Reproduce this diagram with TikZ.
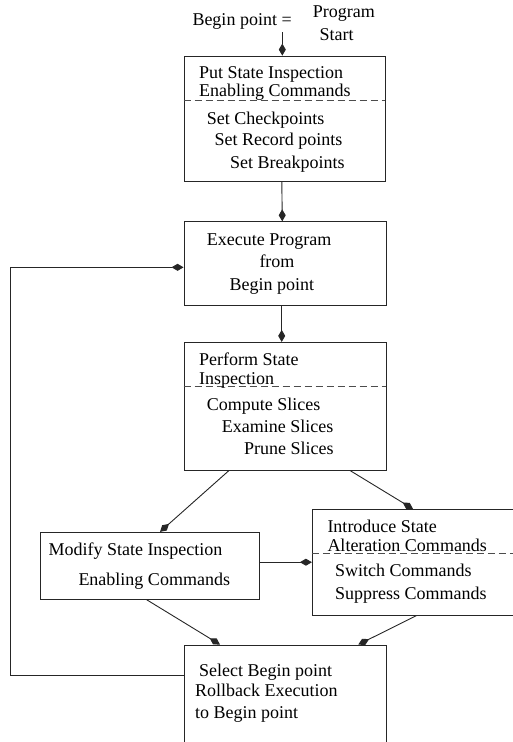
\documentclass[tikz,border=0pt]{standalone}
\usepackage{fontspec}
\setmainfont{Liberation Serif}
\usetikzlibrary{arrows.meta}

\begin{document}
\begin{tikzpicture}[
  x=1pt, y=-1pt,
  font=\fontsize{18}{22}\selectfont,
  box/.style={draw=black!85, line width=0.9pt, inner sep=0pt},
  txt/.style={anchor=base west, inner sep=0pt},
  sep/.style={draw=black!70, line width=0.9pt, dash pattern=on 7pt off 4pt},
  arr/.style={-{Kite[length=12pt, width=7pt, inset=6pt]}, line width=0.9pt, black!85}
]
  \useasboundingbox (0,0) rectangle (512,742);

  % boxes
  \node[box, minimum width=201pt, minimum height=125.7pt] (put) at (284.5,118.9) {};
  \node[box, minimum width=202pt, minimum height=83.3pt] (exec) at (285,263.4) {};
  \node[box, minimum width=202pt, minimum height=127.7pt] (perf) at (285,406.2) {};
  \node[box, minimum width=219.3pt, minimum height=67pt] (mod) at (149.7,565.8) {};
  \node[box, minimum width=212.7pt, minimum height=105.7pt] (intro) at (418.7,562.2) {};
  \node[box, minimum width=202pt, minimum height=125pt] (sel) at (285,707.5) {};

  % dashed separators
  \draw[sep] ([yshift=-45pt]put.north west) -- ([yshift=-45pt]put.north east);
  \draw[sep] ([yshift=-45pt]perf.north west) -- ([yshift=-45pt]perf.north east);
  \draw[sep] ([yshift=-45pt]intro.north west) -- ([yshift=-45pt]intro.north east);

  % texts
  \node[txt] (bpl) at (192.3,25) {Begin point =};
  \node[txt] (prg) at (312.7,17) {Program};
  \node[txt] (sta) at (319.3,40.5) {Start};

  \node[txt] at (199,78.3) {Put State Inspection};
  \node[txt] at (199,96.7) {Enabling Commands};
  \node[txt] at (206.7,124) {Set Checkpoints};
  \node[txt] at (214.3,145) {Set Record points};
  \node[txt] at (230,168.3) {Set Breakpoints};

  \node[txt] at (206.7,245) {Execute Program};
  \node[txt] at (259.3,267.3) {from};
  \node[txt] at (229.3,290) {Begin point};

  \node[txt] at (199,365.7) {Perform State};
  \node[txt] at (199,384) {Inspection};
  \node[txt] at (206.7,410) {Compute Slices};
  \node[txt] at (221.7,432.3) {Examine Slices};
  \node[txt] at (244,454.3) {Prune Slices};

  \node[txt] at (48.3,555) {Modify State Inspection};
  \node[txt] at (78.3,585) {Enabling Commands};

  \node[txt] at (327.3,532.3) {Introduce State};
  \node[txt] at (327.3,551) {Alteration Commands};
  \node[txt] at (335,576) {Switch Commands};
  \node[txt] at (335,599.3) {Suppress Commands};

  \node[txt] at (199,676) {Select Begin point};
  \node[txt] at (195,696.7) {Rollback Execution};
  \node[txt] at (195,718.3) {to Begin point};

  % connectors
  \coordinate (bp) at (282.3,32.3);
  \draw[arr] (bp) -- (bp |- put.north);
  \draw[arr] ([xshift=-2.7pt]put.south) -- ([xshift=-2.7pt]exec.north);
  \draw[arr] ([xshift=-3.3pt]exec.south) -- ([xshift=-3.3pt]perf.north);
  \draw[arr] ([xshift=-56pt]perf.south) -- ([xshift=10.3pt]mod.north);
  \draw[arr] ([xshift=65pt]perf.south) -- ([xshift=-5.7pt]intro.north);
  \draw[arr] (mod.east |- intro.west) -- (intro.west);
  \draw[arr] ([xshift=-3pt]mod.south) -- ([xshift=-65pt]sel.north);
  \draw[arr] ([xshift=-2pt]intro.south) -- ([xshift=73.3pt]sel.north);

  % loop back
  \coordinate (lp1) at (10,675);
  \coordinate (lp2) at (10,267.3);
  \draw[arr] (sel.west |- lp1) -- (lp1) -- (lp2) -- (exec.west |- lp2);
\end{tikzpicture}
\end{document}
